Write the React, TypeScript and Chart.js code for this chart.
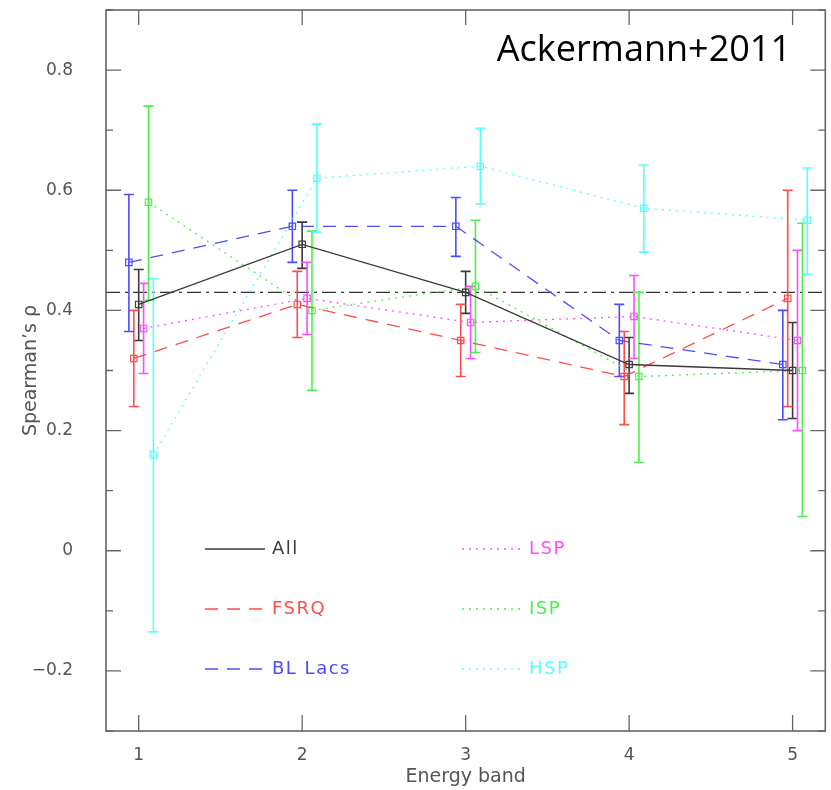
import React, { useEffect, useRef } from 'react';
import { Chart, registerables } from 'chart.js';

Chart.register(...registerables);

const bands = [1, 2, 3, 4, 5];
const yTicks = [-0.2, 0, 0.2, 0.4, 0.6, 0.8];
const yMinorTicks = [-0.3, -0.1, 0.1, 0.3, 0.5, 0.7, 0.9];
const meanRho = 0.43;

const allRho = [0.41, 0.51, 0.43, 0.31, 0.30];
const allLo = [0.35, 0.47, 0.395, 0.262, 0.22];
const allHi = [0.468, 0.547, 0.465, 0.355, 0.38];

const fsrqRho = [0.32, 0.41, 0.35, 0.29, 0.42];
const fsrqLo = [0.24, 0.355, 0.29, 0.21, 0.24];
const fsrqHi = [0.40, 0.465, 0.41, 0.365, 0.60];

const bllacRho = [0.48, 0.54, 0.54, 0.35, 0.31];
const bllacLo = [0.365, 0.48, 0.49, 0.29, 0.218];
const bllacHi = [0.593, 0.60, 0.588, 0.41, 0.40];

const lspRho = [0.37, 0.42, 0.38, 0.39, 0.35];
const lspLo = [0.295, 0.36, 0.32, 0.32, 0.20];
const lspHi = [0.445, 0.48, 0.44, 0.458, 0.50];

const ispRho = [0.58, 0.40, 0.44, 0.29, 0.30];
const ispLo = [0.417, 0.267, 0.33, 0.147, 0.057];
const ispHi = [0.74, 0.532, 0.55, 0.43, 0.545];

const hspRho = [0.16, 0.62, 0.64, 0.57, 0.55];
const hspLo = [-0.135, 0.53, 0.577, 0.497, 0.46];
const hspHi = [0.453, 0.71, 0.703, 0.642, 0.637];

type Series = {
  label: string;
  rho: number[];
  lo: number[];
  hi: number[];
  color: string;
  dash: number[];
  dx: number;
  col: number;
  row: number;
};

const series: Series[] = [
  { label: 'All', rho: allRho, lo: allLo, hi: allHi, color: '#3a3a3a', dash: [], dx: 0, col: 0, row: 0 },
  { label: 'FSRQ', rho: fsrqRho, lo: fsrqLo, hi: fsrqHi, color: '#ff4c4c', dash: [13, 9], dx: -0.03, col: 0, row: 1 },
  { label: 'BL Lacs', rho: bllacRho, lo: bllacLo, hi: bllacHi, color: '#4c4cff', dash: [13, 9], dx: -0.06, col: 0, row: 2 },
  { label: 'LSP', rho: lspRho, lo: lspLo, hi: lspHi, color: '#ff4cff', dash: [2, 5], dx: 0.03, col: 1, row: 0 },
  { label: 'ISP', rho: ispRho, lo: ispLo, hi: ispHi, color: '#4cf04c', dash: [2, 5], dx: 0.06, col: 1, row: 1 },
  { label: 'HSP', rho: hspRho, lo: hspLo, hi: hspHi, color: '#55ffff', dash: [2, 5], dx: 0.09, col: 1, row: 2 },
];

const FONT = '"DejaVu Sans", sans-serif';
const AXIS_COLOR = '#666666';
const LABEL_COLOR = '#555555';

const decoPlugin = {
  id: 'deco',
  beforeDatasetsDraw(chart: any) {
    const { ctx, chartArea: a, scales } = chart;
    const y = scales.y.getPixelForValue(meanRho);
    ctx.save();
    ctx.strokeStyle = '#333333';
    ctx.lineWidth = 1.2;
    ctx.setLineDash([14, 5, 3, 5]);
    ctx.beginPath();
    ctx.moveTo(a.left, y);
    ctx.lineTo(a.right, y);
    ctx.stroke();
    ctx.restore();

    // error bars
    ctx.save();
    ctx.setLineDash([]);
    ctx.lineWidth = 1.6;
    series.forEach((s) => {
      ctx.strokeStyle = s.color;
      bands.forEach((b, j) => {
        const x = scales.x.getPixelForValue(b + s.dx);
        const y1 = scales.y.getPixelForValue(s.lo[j]);
        const y2 = scales.y.getPixelForValue(s.hi[j]);
        ctx.beginPath();
        ctx.moveTo(x, y1);
        ctx.lineTo(x, y2);
        ctx.moveTo(x - 5, y1);
        ctx.lineTo(x + 5, y1);
        ctx.moveTo(x - 5, y2);
        ctx.lineTo(x + 5, y2);
        ctx.stroke();
      });
    });
    ctx.restore();
  },
  afterDraw(chart: any) {
    const { ctx, chartArea: a, scales } = chart;
    ctx.save();
    // frame
    ctx.strokeStyle = AXIS_COLOR;
    ctx.lineWidth = 1.6;
    ctx.setLineDash([]);
    ctx.strokeRect(a.left, a.top, a.right - a.left, a.bottom - a.top);
    ctx.lineWidth = 1.3;
    ctx.beginPath();
    bands.forEach((b) => {
      const x = scales.x.getPixelForValue(b);
      ctx.moveTo(x, a.bottom);
      ctx.lineTo(x, a.bottom - 16);
      ctx.moveTo(x, a.top);
      ctx.lineTo(x, a.top + 15);
    });
    yTicks.forEach((v) => {
      const y = scales.y.getPixelForValue(v);
      ctx.moveTo(a.left, y);
      ctx.lineTo(a.left + 15, y);
      ctx.moveTo(a.right, y);
      ctx.lineTo(a.right - 15, y);
    });
    yMinorTicks.forEach((v) => {
      const y = scales.y.getPixelForValue(v);
      ctx.moveTo(a.left, y);
      ctx.lineTo(a.left + 7, y);
      ctx.moveTo(a.right, y);
      ctx.lineTo(a.right - 7, y);
    });
    ctx.stroke();

    // legend
    ctx.font = `18px ${FONT}`;
    (ctx as any).letterSpacing = '1.5px';
    ctx.textBaseline = 'middle';
    ctx.textAlign = 'left';
    const colX = [a.left + 99, a.left + 356];
    const rowY = [a.top + 539, a.top + 599, a.top + 659];
    series.forEach((s) => {
      const x0 = colX[s.col];
      const yy = rowY[s.row];
      ctx.strokeStyle = s.color;
      ctx.lineWidth = 1.3;
      ctx.setLineDash(s.dash);
      ctx.beginPath();
      ctx.moveTo(x0, yy);
      ctx.lineTo(x0 + 60, yy);
      ctx.stroke();
      ctx.setLineDash([]);
      ctx.fillStyle = s.color;
      ctx.fillText(s.label, x0 + 67, yy);
    });
    (ctx as any).letterSpacing = '0px';

    // annotation
    ctx.fillStyle = '#000000';
    ctx.font = '36px "Open Sans", "Liberation Sans", sans-serif';
    ctx.textAlign = 'right';
    ctx.textBaseline = 'alphabetic';
    ctx.fillText('Ackermann+2011', 791, 61);
    ctx.restore();
  },
};

export default function App() {
  const ref = useRef<HTMLCanvasElement | null>(null);

  useEffect(() => {
    if (!ref.current) return;
    const chart = new Chart(ref.current, {
      type: 'line',
      data: {
        datasets: series.map((s) => ({
          label: s.label,
          data: bands.map((b, j) => ({ x: b + s.dx, y: s.rho[j] })),
          borderColor: s.color,
          borderWidth: 1.3,
          borderDash: s.dash,
          backgroundColor: 'rgba(0,0,0,0)',
          pointStyle: 'rect',
          pointRadius: 4.5,
          pointBorderWidth: 1.2,
          pointBorderColor: s.color,
          pointBackgroundColor: 'rgba(0,0,0,0)',
          tension: 0,
          fill: false,
        })),
      },
      options: {
        animation: false,
        responsive: true,
        maintainAspectRatio: false,
        layout: { padding: { top: 10, right: 4, left: 0, bottom: 0 } },
        plugins: { legend: { display: false }, tooltip: { enabled: false } },
        scales: {
          x: {
            type: 'linear',
            min: 0.8,
            max: 5.2,
            grid: { display: false },
            border: { display: false },
            afterBuildTicks: (s: any) => {
              s.ticks = bands.map((v) => ({ value: v }));
            },
            afterFit: (s: any) => {
              s.height = 59;
              s.paddingLeft = 0;
              s.paddingRight = 0;
            },
            ticks: {
              font: { family: FONT, size: 17 },
              color: LABEL_COLOR,
              padding: 6,
              maxRotation: 0,
              callback: (v: any) => String(v),
            },
            title: {
              display: true,
              text: 'Energy band',
              font: { family: FONT, size: 19 },
              color: LABEL_COLOR,
              padding: { top: 0, bottom: 2 },
            },
          },
          y: {
            type: 'linear',
            min: -0.3,
            max: 0.9,
            grid: { display: false },
            border: { display: false },
            afterBuildTicks: (s: any) => {
              s.ticks = yTicks.map((v) => ({ value: v }));
            },
            afterFit: (s: any) => {
              s.width = 106;
              s.paddingTop = 0;
              s.paddingBottom = 0;
            },
            ticks: {
              font: { family: FONT, size: 17 },
              color: LABEL_COLOR,
              padding: 25,
              callback: (v: any) => {
                const n = Math.round(Number(v) * 10) / 10;
                if (n === 0) return '0';
                return n < 0 ? '\u2212' + Math.abs(n).toFixed(1) : n.toFixed(1);
              },
            },
            title: {
              display: true,
              text: 'Spearman\u2019s \u03C1',
              font: { family: FONT, size: 19 },
              color: LABEL_COLOR,
              padding: { top: 20, bottom: 0 },
            },
          },
        },
      },
      plugins: [decoPlugin],
    });
    return () => chart.destroy();
  }, []);

  return (
    <div style={{ position: 'absolute', left: 0, top: 0, width: 831, height: 790, background: '#ffffff' }}>
      <canvas ref={ref} />
    </div>
  );
}
